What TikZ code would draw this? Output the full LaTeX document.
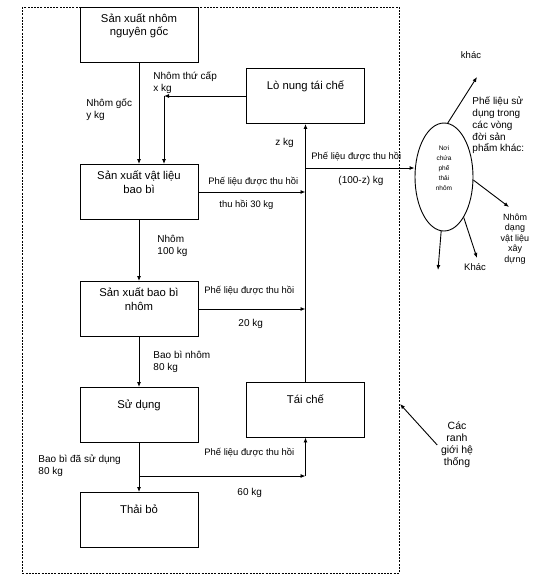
\documentclass[tikz,border=0pt]{standalone}
\usepackage{fontspec}
\setmainfont{Liberation Sans}
\usetikzlibrary{arrows.meta,positioning,shapes.geometric}

\begin{document}
\begin{tikzpicture}[x=1pt,y=-1pt,>={Latex[length=5pt,width=4pt]},line width=0.9pt,
    box/.style={draw,minimum width=118pt,minimum height=55pt,inner sep=0pt,align=center,
      font=\fontsize{11.3}{13.5}\selectfont,text height=8pt,text depth=#1},
    box/.default=21pt,
    lbl/.style={anchor=west,align=left,inner sep=0pt,font=\fontsize{10}{12}\selectfont},
    scrap/.style={lbl,font=\fontsize{9.4}{12}\selectfont}]
    \useasboundingbox (0,0) rectangle (554,581);

    % system boundary
    \draw[dash pattern=on 2pt off 1.2pt,line width=1pt] (22,7) rectangle (399,573);

    % process chain
    \node[box=6pt] (prim) at (139,34.5) {Sản xuất nhôm\\nguyên gốc};
    \node[box=6pt] (mat) at (139,192) {Sản xuất vật liệu\\bao bì};
    \node[box=6pt] (pack) at (139,309) {Sản xuất bao bì\\nhôm};
    \node[box] (use) at (139,415) {Sử dụng};
    \node[box] (waste) at (139,520) {Thải bỏ};
    \node[box] (melt) at (305.5,96) {Lò nung tái chế};
    \node[box] (recyc) at (305.5,409.5) {Tái chế};

    % scrap pile
    \node[draw,ellipse,minimum width=58pt,minimum height=108pt,inner sep=0pt,align=center,
      font=\fontsize{6.5}{10}\selectfont,text depth=17pt] (pile) at (444,177) {Nơi\\chứa\\phế\\thải\\nhôm};

    \coordinate (xk) at (164,96);
    \coordinate (out) at (305.5,168);
    \coordinate (split) at (139,476);
    \coordinate (k1) at (477,77);
    \coordinate (k2) at (509,207);
    \coordinate (k3) at (477,258);
    \coordinate (k4) at (438,270);
    \coordinate (bnd) at (400,404);

    \path[->]
        (prim) edge (mat)
        (mat) edge (pack)
        (pack) edge (use)
        (use) edge (waste)
        (melt.west) edge (xk)
        (xk) edge (xk |- mat.north)
        (recyc) edge (melt)
        (mat.east) edge (mat.east -| out)
        (pack.east) edge (pack.east -| out)
        (split) edge (split -| recyc)
        (split -| recyc) edge (recyc)
        (out) edge (out -| pile.west)
        (pile.86) edge (k1)
        (pile.-6) edge (k2)
        (pile.-64) edge (k3)
        (pile.-93) edge (k4);

    % flow labels
    \node[lbl] (lprim) at (86,110) {Nhôm gốc\\y kg};
    \node[lbl] (lsec) at (153,83) {Nhôm thứ cấp\\x kg};
    \node[lbl] (lz) at (275,143) {z kg};
    \node[scrap] (lout) at (311,157) {Phế liệu được thu hồi};
    \node[lbl] (lrest) at (338,181) {(100-z) kg};
    \node[scrap] (lmat) at (208,182) {Phế liệu được thu hồi};
    \node[scrap] (lmatkg) at (219,205) {thu hồi 30 kg};
    \node[lbl] (lal) at (157,245.5) {Nhôm\\100 kg};
    \node[scrap] (lpack) at (204,291) {Phế liệu được thu hồi};
    \node[lbl] (lpackkg) at (238,324) {20 kg};
    \node[lbl] (lbb) at (153,362) {Bao bì nhôm\\80 kg};
    \node[scrap] (luse) at (204,453) {Phế liệu được thu hồi};
    \node[lbl] (lusekg) at (237,493) {60 kg};
    \node[lbl] (lused) at (38,465.5) {Bao bì đã sử dụng\\80 kg};
    \draw (use) -- (split);

    % outside the boundary
    \node[font=\fontsize{9.5}{12}\selectfont] (khac1) at (471,55) {khác};
    \node[lbl,font=\fontsize{10}{11.7}\selectfont] (lother) at (472,125.5) {Phế liệu sử\\dụng trong\\các vòng\\đời sản\\phẩm khác:};
    \node[align=center,font=\fontsize{9}{10.6}\selectfont] (build) at (515,239) {Nhôm\\dạng\\vật liệu\\xây\\dựng};
    \node[font=\fontsize{9.5}{12}\selectfont] (khac2) at (475,267) {Khác};
    \node[align=center,font=\fontsize{10.5}{12}\selectfont] (sys) at (457,445) {Các\\ranh\\giới hệ\\thống};
    \draw[->] (sys.west) -- (bnd);
\end{tikzpicture}
\end{document}
